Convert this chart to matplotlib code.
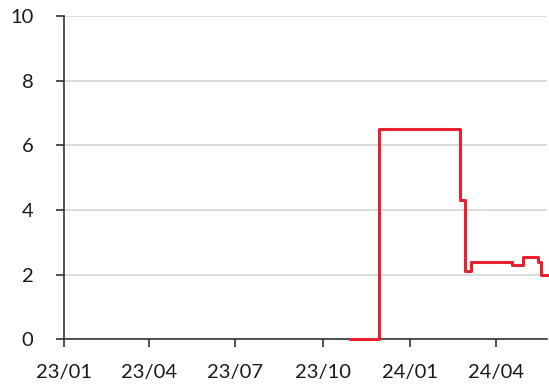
import matplotlib.pyplot as plt
import numpy as np

# step series: value holds from each date until the next one
dates = np.array([
    "2023-10-30", "2023-11-30", "2024-02-23", "2024-02-28", "2024-03-06",
    "2024-04-18", "2024-04-29", "2024-05-15", "2024-05-19", "2024-05-25",
], dtype="datetime64[D]")
values = [0.0, 6.5, 4.3, 2.1, 2.4, 2.3, 2.55, 2.4, 2.0, 2.0]

tick_dates = np.array(["2023-01-01", "2023-04-01", "2023-07-01",
                       "2023-10-01", "2024-01-01", "2024-04-01"], dtype="datetime64[D]")
tick_labels = ["23/01", "23/04", "23/07", "23/10", "24/01", "24/04"]
y_ticks = [0, 2, 4, 6, 8, 10]

plt.rcParams["font.family"] = ["Lato", "DejaVu Sans"]

fig = plt.figure(figsize=(5.49, 3.89), dpi=100)
ax = fig.add_axes([0.1166, 0.128, 0.88, 0.831])

ax.plot(dates, values, drawstyle="steps-post", color="#e8202f", lw=2.2,
        zorder=5, clip_on=False)

ax.set_xlim(np.datetime64("2023-01-01"), np.datetime64("2024-05-25"))
ax.set_ylim(0, 10)
ax.set_xticks(tick_dates)
ax.set_xticklabels(tick_labels)
ax.set_yticks(y_ticks)

ax.grid(axis="y", color="#d9d9d9", lw=1.3)
ax.set_axisbelow(True)
for s in ["top", "right"]:
    ax.spines[s].set_visible(False)
for s in ["left", "bottom"]:
    ax.spines[s].set_color("#333333")
    ax.spines[s].set_linewidth(1.2)

ax.tick_params(axis="both", colors="#333333", labelcolor="#1a1a1a",
               labelsize=14.5, length=6, width=1.2)
ax.tick_params(axis="y", pad=16)
ax.tick_params(axis="x", pad=12)

fig.savefig("out.png", dpi=100)
